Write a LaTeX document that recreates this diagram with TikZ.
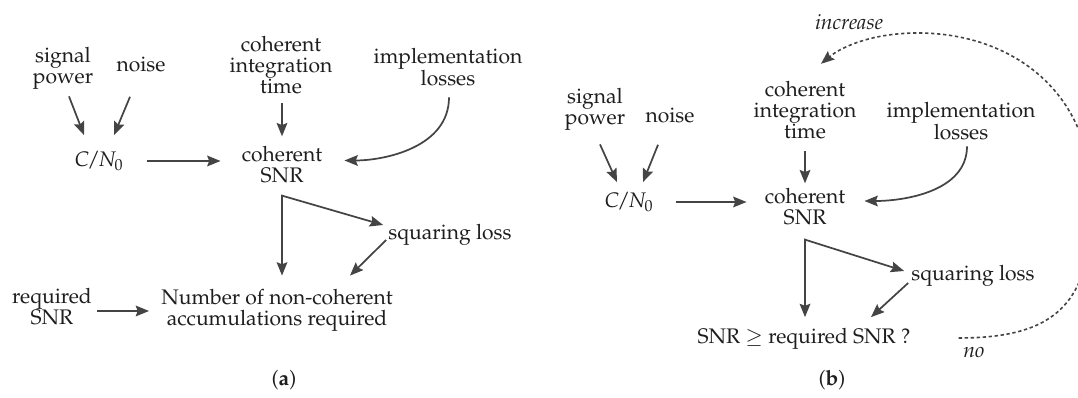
\documentclass[tikz,border=0pt]{standalone}
\usepackage[T1]{fontenc}
\usepackage{mathpazo}
\usepackage{tikz}
\usetikzlibrary{arrows.meta,calc,positioning}
\definecolor{arrowGray}{HTML}{444444}
\definecolor{textGray}{HTML}{1E1E1E}

\begin{document}
\begin{tikzpicture}[
    x=0.75pt, y=-0.75pt,
    >={Stealth[length=10pt, width=8pt, inset=1.5pt]},
    font=\fontsize{15.8}{15.8}\selectfont,
    % Styles
    textNode/.style={inner sep=0pt, align=center, text=textGray},
    flowArrow/.style={->, line width=1.3pt, draw=arrowGray},
    loopArrow/.style={->, line width=1.2pt, draw=arrowGray, dash pattern=on 2.5pt off 2pt}
]

\useasboundingbox (0,0) rectangle (1078,398);

% ================= PANEL (a) =================
\node[textNode] (powerA) at (63,68) {signal\\power};
\node[textNode] (noiseA) at (141,64) {noise};
\node[textNode] (tcohA) at (281,65) {coherent\\integration\\time};
\node[textNode] (implA) at (448,67) {implementation\\losses};
\node[textNode] (cnoA) at (99,161) {$C\mkern-2mu/\mkern-2mu N_0$};
\node[textNode] (snrA) at (282,165) {coherent\\SNR};
\node[textNode] (sqlA) at (450,235) {squaring loss};
\node[textNode] (nncA) at (277,310) {Number of non-coherent\\accumulations required};
\node[textNode] (reqA) at (52,307) {required\\SNR};
\node[textNode] (capA) at (284,380) {(\textbf{a})};

% inputs to C/N0 and coherent SNR
\draw[flowArrow] ($(powerA.south)+(6,7)$) -- ($(cnoA.north)+(-15,-16)$);
\draw[flowArrow] ($(noiseA.south)+(-11,25)$) -- ($(cnoA.north)+(15,-16)$);
\draw[flowArrow] ($(cnoA.east)+(23,0)$) -- ($(cnoA.east -| snrA.west)+(-21,0)$);
\draw[flowArrow] ($(tcohA.south -| snrA.north)+(0,9)$) -- ($(snrA.north)+(0,-10)$);
\draw[flowArrow] ($(implA.south)+(1,11)$) .. controls +(0,50) and +(40,0) .. ($(snrA.east)+(22,-4.5)$);

% fork below coherent SNR
\coordinate (forkA) at ($(snrA.south)+(0,12)$);
\draw[flowArrow, <->] ($(snrA.south |- nncA.north)+(0,-13)$) -- (forkA) -- ($(sqlA.west)+(-5,-10)$);
\draw[flowArrow] ($(sqlA.west)+(-2,5)$) -- ($(nncA.north)+(73,-13)$);
\draw[flowArrow] ($(reqA.east)+(5,4)$) -- ($(reqA.east -| nncA.west)+(-12,4)$);

% ================= PANEL (b) =================
\node[textNode] (incB) at (849,22) {\textit{increase}};
\node[textNode] (powerB) at (595,109) {signal\\power};
\node[textNode] (noiseB) at (670,115) {noise};
\node[textNode] (tcohB) at (805,110) {coherent\\integration\\time};
\node[textNode] (implB) at (961,121) {implementation\\losses};
\node[textNode] (cnoB) at (629,202) {$C\mkern-2mu/\mkern-2mu N_0$};
\node[textNode] (snrB) at (805,207) {coherent\\SNR};
\node[textNode] (sqlB) at (973,276) {squaring loss};
\node[textNode] (cmpB) at (804,339) {SNR $\geq$ required SNR ?};
\node[textNode] (noB) at (974,352) {\textit{no}};
\node[textNode] (capB) at (832,380) {(\textbf{b})};

% inputs to C/N0 and coherent SNR
\draw[flowArrow] ($(powerB.south)+(5,14)$) -- ($(cnoB.north)+(-12,-10)$);
\draw[flowArrow] ($(noiseB.south)+(-12,22)$) -- ($(cnoB.north)+(14,-10)$);
\draw[flowArrow] ($(cnoB.east)+(22,0)$) -- ($(cnoB.east -| snrB.west)+(-18,0)$);
\draw[flowArrow] ($(tcohB.south -| snrB.north)+(0,12)$) -- ($(snrB.north)+(0,-5)$);
\draw[flowArrow] ($(implB.south)+(6,6)$) .. controls +(0,45) and +(40,0) .. ($(snrB.east)+(19,-6)$);

% fork below coherent SNR
\coordinate (forkB) at ($(snrB.south)+(0,14)$);
\draw[flowArrow, <->] ($(snrB.south |- cmpB.north)+(0,-11)$) -- (forkB) -- ($(sqlB.west)+(-7,-5)$);
\draw[flowArrow] ($(sqlB.west)+(-3,7)$) -- ($(cmpB.north)+(67,-11)$);

% feedback loop (runs past the right edge)
\coordinate (loopR) at (1092,200);
\coordinate (loopTop) at (918,33);
\draw[loopArrow] ($(cmpB.east)+(48,-1)$) .. controls (1060,338) and (1092,300) .. (loopR)
    .. controls (1092,90) and (1010,33) .. (loopTop)
    .. controls (870,33) and (840,48) .. ($(tcohB.north)+(16,-17)$);

\end{tikzpicture}
\end{document}
